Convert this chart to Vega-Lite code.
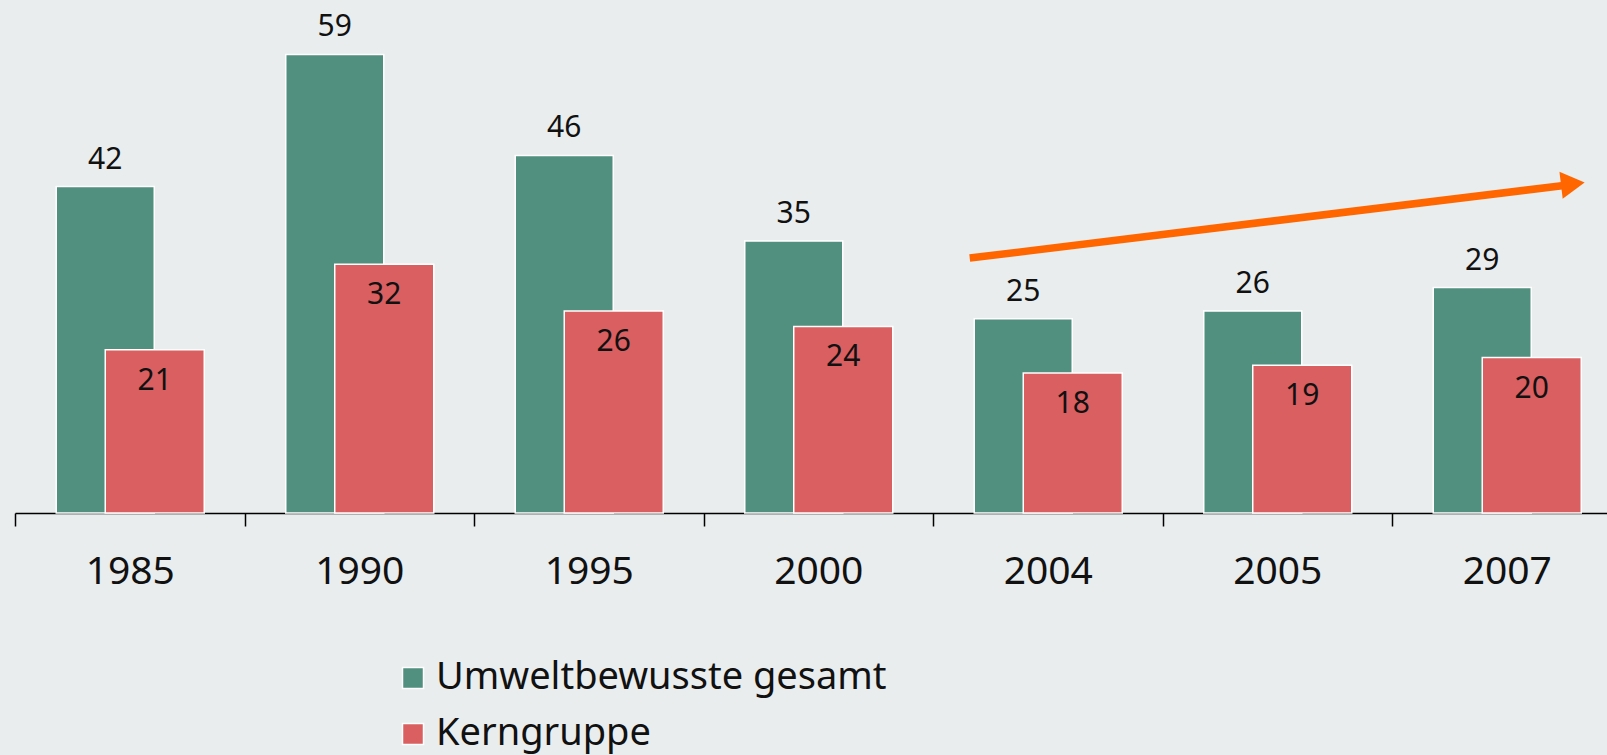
{
  "$schema": "https://vega.github.io/schema/vega-lite/v6.json",
  "width": 1592,
  "height": 513,
  "autosize": {"type": "none"},
  "padding": {"left": 15, "top": 0, "right": 0, "bottom": 242},
  "background": "#E9EDEE",
  "config": {
    "view": {"stroke": null},
    "font": "Noto Sans",
    "legend": {"padding": 0}
  },
  "datasets": {
    "bars": [
      {"year": "1985", "series": "Umweltbewusste gesamt", "value": 42},
      {"year": "1990", "series": "Umweltbewusste gesamt", "value": 59},
      {"year": "1995", "series": "Umweltbewusste gesamt", "value": 46},
      {"year": "2000", "series": "Umweltbewusste gesamt", "value": 35},
      {"year": "2004", "series": "Umweltbewusste gesamt", "value": 25},
      {"year": "2005", "series": "Umweltbewusste gesamt", "value": 26},
      {"year": "2007", "series": "Umweltbewusste gesamt", "value": 29},
      {"year": "1985", "series": "Kerngruppe", "value": 21},
      {"year": "1990", "series": "Kerngruppe", "value": 32},
      {"year": "1995", "series": "Kerngruppe", "value": 26},
      {"year": "2000", "series": "Kerngruppe", "value": 24},
      {"year": "2004", "series": "Kerngruppe", "value": 18},
      {"year": "2005", "series": "Kerngruppe", "value": 19},
      {"year": "2007", "series": "Kerngruppe", "value": 20}
    ],
    "arrow": [
      {"x0": 4.16, "y0": 32.8, "x1": 6.74, "y1": 42.1}
    ],
    "head": [
      {"x": 6.788, "y": 42.35}
    ]
  },
  "resolve": {"scale": {"x": "independent"}},
  "layer": [
    {
      "data": {"name": "bars"},
      "transform": [{"filter": "datum.series === 'Umweltbewusste gesamt'"}],
      "mark": {"type": "bar", "width": 98, "xOffset": -24.5, "stroke": "white", "strokeWidth": 1.5},
      "encoding": {
        "x": {
          "field": "year", "type": "nominal", "sort": null,
          "scale": {"range": [0, 1606.5], "paddingInner": 0, "paddingOuter": 0},
          "axis": {
            "title": null, "labelAngle": 0, "labelFontSize": 39, "labelColor": "#111",
            "labelFont": "Noto Sans", "labelPadding": 26,
            "domainColor": "#000", "domainWidth": 1.5,
            "tickColor": "#000", "tickWidth": 1.5, "tickSize": 13, "tickBand": "extent"
          }
        },
        "y": {
          "field": "value", "type": "quantitative",
          "scale": {"domain": [0, 66], "nice": false},
          "axis": null
        },
        "color": {
          "field": "series", "type": "nominal",
          "scale": {"domain": ["Umweltbewusste gesamt", "Kerngruppe"], "range": ["#518F7E", "#D95F61"]},
          "legend": {
            "title": null, "orient": "none", "legendX": 379, "legendY": 659,
            "direction": "vertical", "labelLimit": 0,
            "labelFontSize": 38, "labelColor": "#111", "labelFont": "Noto Sans",
            "symbolType": "square", "symbolSize": 441, "symbolStrokeColor": "white", "symbolStrokeWidth": 1.5,
            "symbolOpacity": 1, "labelOffset": 4, "rowPadding": 18
          }
        }
      }
    },
    {
      "data": {"name": "bars"},
      "transform": [{"filter": "datum.series === 'Kerngruppe'"}],
      "mark": {"type": "bar", "width": 99, "xOffset": 25, "stroke": "white", "strokeWidth": 1.5},
      "encoding": {
        "x": {"field": "year", "type": "nominal", "sort": null,
          "scale": {"range": [0, 1606.5], "paddingInner": 0, "paddingOuter": 0}, "axis": null},
        "y": {"field": "value", "type": "quantitative", "scale": {"domain": [0, 66], "nice": false}, "axis": null},
        "color": {"field": "series", "type": "nominal"}
      }
    },
    {
      "data": {"name": "bars"},
      "transform": [{"filter": "datum.series === 'Umweltbewusste gesamt'"}],
      "mark": {"type": "text", "xOffset": -24.5, "dy": -18, "baseline": "alphabetic", "fontSize": 30, "color": "#111", "font": "Noto Sans"},
      "encoding": {
        "x": {"field": "year", "type": "nominal", "sort": null,
          "scale": {"range": [0, 1606.5], "paddingInner": 0, "paddingOuter": 0}, "axis": null},
        "y": {"field": "value", "type": "quantitative", "scale": {"domain": [0, 66], "nice": false}, "axis": null},
        "text": {"field": "value"}
      }
    },
    {
      "data": {"name": "bars"},
      "transform": [{"filter": "datum.series === 'Kerngruppe'"}],
      "mark": {"type": "text", "xOffset": 25, "dy": 40, "baseline": "alphabetic", "fontSize": 30, "color": "#111", "font": "Noto Sans"},
      "encoding": {
        "x": {"field": "year", "type": "nominal", "sort": null,
          "scale": {"range": [0, 1606.5], "paddingInner": 0, "paddingOuter": 0}, "axis": null},
        "y": {"field": "value", "type": "quantitative", "scale": {"domain": [0, 66], "nice": false}, "axis": null},
        "text": {"field": "value"}
      }
    },
    {
      "data": {"name": "arrow"},
      "mark": {"type": "rule", "stroke": "#FF6600", "strokeWidth": 7.5},
      "encoding": {
        "x": {"field": "x0", "type": "quantitative", "scale": {"domain": [0, 7], "range": [0, 1606.5], "nice": false, "zero": false}, "axis": null},
        "x2": {"field": "x1"},
        "y": {"field": "y0", "type": "quantitative", "scale": {"domain": [0, 66], "nice": false}, "axis": null},
        "y2": {"field": "y1"}
      }
    },
    {
      "data": {"name": "head"},
      "mark": {"type": "point", "shape": "triangle-right", "filled": true, "color": "#FF6600", "opacity": 1, "size": 750, "angle": 353.2},
      "encoding": {
        "x": {"field": "x", "type": "quantitative", "scale": {"domain": [0, 7], "range": [0, 1606.5], "nice": false, "zero": false}, "axis": null},
        "y": {"field": "y", "type": "quantitative", "scale": {"domain": [0, 66], "nice": false}, "axis": null}
      }
    }
  ]
}
